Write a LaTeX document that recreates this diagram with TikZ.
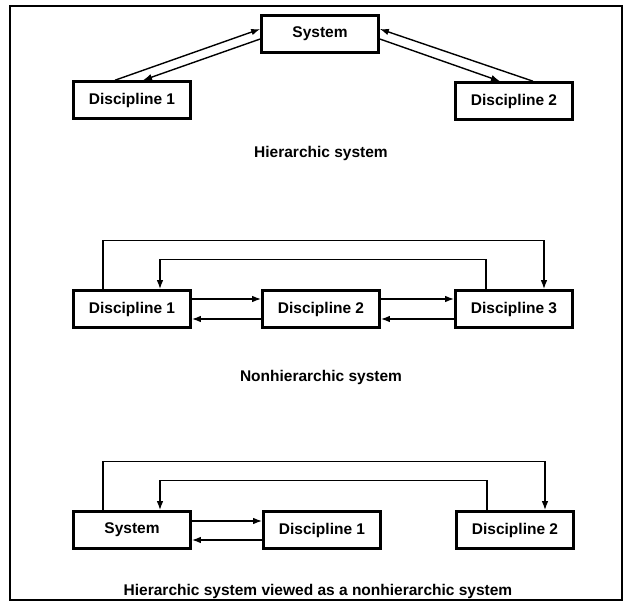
\documentclass[tikz,border=0pt]{standalone}
\usepackage{fontspec}
\setmainfont{Liberation Sans}
\usetikzlibrary{arrows.meta}

\begin{document}
\begin{tikzpicture}[
        x=1pt, y=-1pt,
        box/.style={draw, line width=2.6pt, minimum width=117pt, minimum height=37pt,
            inner sep=0pt, font=\fontsize{15.5}{18}\selectfont\bfseries},
        caption/.style={font=\fontsize{15.5}{18}\selectfont\bfseries},
        link/.style={line width=1.4pt, -{Latex[length=9pt, width=6.5pt]}}
    ]
        \useasboundingbox (0, 0) rectangle (625, 605);
        \draw[line width=1.6pt] (10, 6) rectangle (622, 600);

        % hierarchic
        \node[box] (sys) at (320, 34) {System};
        \node[box] (ha) at (132, 100) {Discipline 1};
        \node[box] (hb) at (514, 101) {Discipline 2};
        \node[caption] (hcap) at (321, 153) {Hierarchic system};

        \draw[link] ([xshift=-17pt]ha.north) -- ([yshift=5pt]sys.west);
        \draw[link] ([yshift=-5pt]sys.west) -- ([xshift=11pt]ha.north);
        \draw[link] ([xshift=19pt]hb.north) -- ([yshift=5pt]sys.east);
        \draw[link] ([yshift=-5pt]sys.east) -- ([xshift=-14pt]hb.north);

        % nonhierarchic
        \node[box] (na) at (132, 309) {Discipline 1};
        \node[box] (nb) at (321, 309) {Discipline 2};
        \node[box] (nc) at (514, 309) {Discipline 3};
        \node[caption] (ncap) at (321, 377) {Nonhierarchic system};

        \draw[link] ([xshift=-29pt]na.north) -- ++(0, -49) -| ([xshift=30pt]nc.north);
        \draw[link] ([xshift=-28pt]nc.north) -- ++(0, -30) -| ([xshift=28pt]na.north);
        \draw[link] ([yshift=10pt]na.east) -- ([yshift=10pt]nb.west);
        \draw[link] ([yshift=-10pt]nb.west) -- ([yshift=-10pt]na.east);
        \draw[link] ([yshift=10pt]nb.east) -- ([yshift=10pt]nc.west);
        \draw[link] ([yshift=-10pt]nc.west) -- ([yshift=-10pt]nb.east);

        % hierarchic viewed as nonhierarchic
        \node[box] (vs) at (132, 530) {System};
        \node[box] (va) at (322, 530) {Discipline 1};
        \node[box] (vb) at (515, 530) {Discipline 2};
        \node[caption] (vcap) at (318, 591) {Hierarchic system viewed as a nonhierarchic system};

        \draw[link] ([xshift=-29pt]vs.north) -- ++(0, -49) -| ([xshift=30pt]vb.north);
        \draw[link] ([xshift=-28pt]vb.north) -- ++(0, -30) -| ([xshift=28pt]vs.north);
        \draw[link] ([yshift=9pt]vs.east) -- ([yshift=9pt]va.west);
        \draw[link] ([yshift=-10pt]va.west) -- ([yshift=-10pt]vs.east);
    \end{tikzpicture}
\end{document}
